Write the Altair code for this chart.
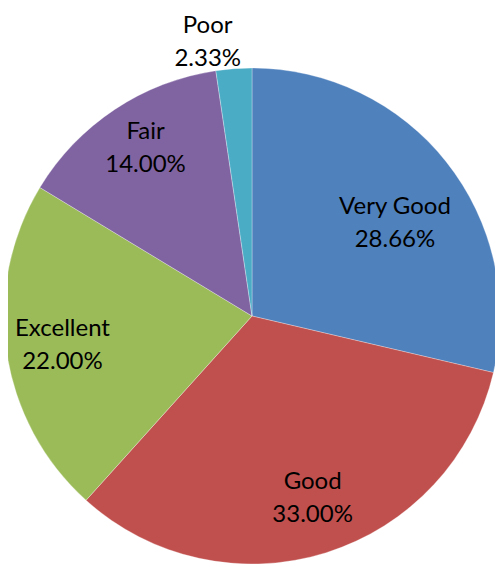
import altair as alt
import pandas as pd

categories = ["Very Good", "Good", "Excellent", "Fair", "Poor"]
percent = [28.66, 33.00, 22.00, 14.00, 2.33]
colors = ["#4F81BD", "#C0504D", "#9BBB59", "#8064A2", "#4BACC6"]

df = pd.DataFrame({
    "category": categories,
    "percent": percent,
    "order": list(range(len(categories))),
})
total = float(sum(percent))

CX, CY, R = 244, 308, 248
theta_scale = alt.Scale(domain=[0, total], range=[0, 6.283185307179586])

pie = alt.Chart(df).mark_arc(outerRadius=R, stroke="white", strokeWidth=0.3).encode(
    theta=alt.Theta("percent:Q", stack=True, scale=theta_scale),
    order=alt.Order("order:Q"),
    color=alt.Color("category:N", scale=alt.Scale(domain=categories, range=colors), legend=None),
    x=alt.value(CX),
    y=alt.value(CY),
)

# label placement tweaks (radius in px, angular nudge in % of the circle)
lr_expr = ("datum.category == 'Poor' ? 293 : datum.category == 'Fair' ? 213 : "
           "datum.category == 'Very Good' ? 180 : datum.category == 'Good' ? 177 : 190")
nudge_expr = ("datum.category == 'Poor' ? -1.25 : datum.category == 'Fair' ? 1.0 : "
              "datum.category == 'Very Good' ? 0.28 : datum.category == 'Good' ? -0.73 : 1.22")

labels = alt.Chart(df).transform_window(
    cum="sum(percent)", sort=[alt.SortField("order", order="ascending")],
    frame=[None, 0],
).transform_calculate(
    mid=f"datum.cum - datum.percent / 2 + ({nudge_expr})",
    label="datum.category + '\\n' + format(datum.percent, '.2f') + '%'",
    lr=lr_expr,
).mark_text(
    font="Lato", fontSize=24, lineBreak="\n", lineHeight=33, color="black",
    align="center", baseline="middle",
).encode(
    theta=alt.Theta("mid:Q", stack=None, scale=theta_scale),
    text="label:N",
    radius=alt.Radius("lr:Q", scale=None),
    x=alt.value(CX),
    y=alt.value(CY),
)

chart = alt.layer(pie, labels).properties(
    width=487, height=559, padding=0, autosize="none",
).configure_view(stroke=None)

chart.save("out.html", embed_options={"renderer": "svg", "actions": False})
